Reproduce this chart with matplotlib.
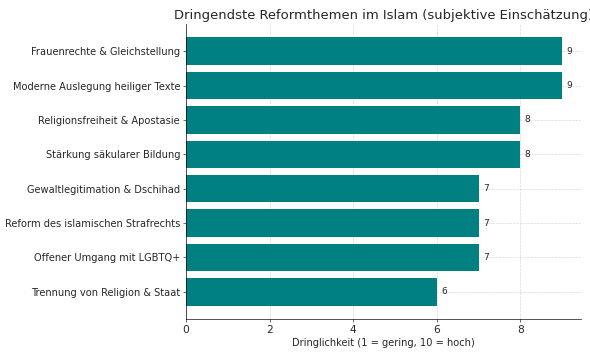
import matplotlib
matplotlib.use("Agg")
from matplotlib import pyplot as plt

topics = [
    "Frauenrechte & Gleichstellung",
    "Moderne Auslegung heiliger Texte",
    "Religionsfreiheit & Apostasie",
    "Stärkung säkularer Bildung",
    "Gewaltlegitimation & Dschihad",
    "Reform des islamischen Strafrechts",
    "Offener Umgang mit LGBTQ+",
    "Trennung von Religion & Staat",
]
scores = [9, 9, 8, 8, 7, 7, 7, 6]

fig, ax = plt.subplots(figsize=(10, 6), dpi=59)
fig.subplots_adjust(left=0.315, right=0.985, top=0.932, bottom=0.099)

ax.barh(topics, scores, color="teal", height=0.8, zorder=2)
ax.invert_yaxis()

for i, v in enumerate(scores):
    ax.text(v + 0.1, i, str(v), va="center", ha="left", fontsize=11, color="#262626")

ax.set_title("Dringendste Reformthemen im Islam (subjektive Einschätzung)",
             fontsize=16, color="#262626")
ax.set_xlabel("Dringlichkeit (1 = gering, 10 = hoch)", fontsize=12, color="#262626")
ax.tick_params(axis="y", labelsize=12, colors="#262626")
ax.tick_params(axis="x", labelsize=13, colors="#262626")
ax.grid(True, linestyle="--", color="#cccccc", linewidth=0.8, alpha=0.8, zorder=3)
ax.spines["top"].set_visible(False)
ax.spines["right"].set_visible(False)

plt.savefig("out.png", dpi=59)
